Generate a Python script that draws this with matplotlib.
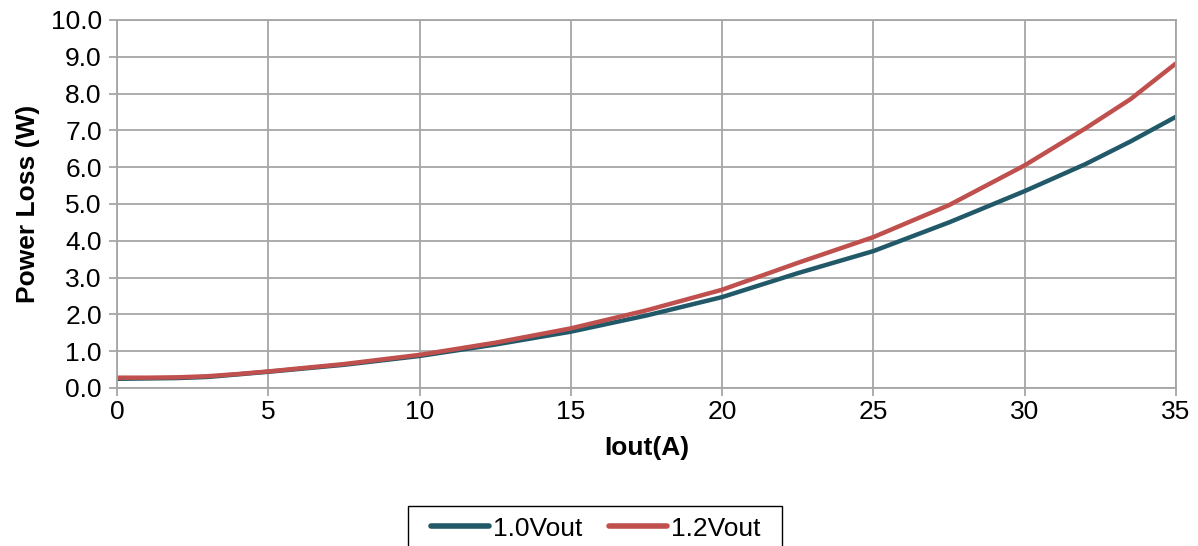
import matplotlib
matplotlib.use("Agg")
import matplotlib.pyplot as plt
from matplotlib.patches import Rectangle

plt.rcParams["font.family"] = ["Liberation Sans", "DejaVu Sans"]

# Iout (A) and power loss (W)
iout = [0, 1, 2, 3, 4, 5, 7.5, 10, 12.5, 15, 17.5, 20, 22.5, 25, 27.5, 30, 32, 33.5, 35]
loss_1v0 = [0.25, 0.26, 0.27, 0.30, 0.37, 0.44, 0.63, 0.87, 1.18, 1.53, 1.97,
            2.47, 3.12, 3.72, 4.50, 5.35, 6.08, 6.70, 7.37]
loss_1v2 = [0.28, 0.28, 0.29, 0.32, 0.38, 0.45, 0.65, 0.90, 1.23, 1.62, 2.11,
            2.67, 3.40, 4.10, 4.97, 6.05, 7.05, 7.85, 8.82]

grid_c = "#a6a6a6"

fig = plt.figure(figsize=(11.98, 5.46), dpi=100)
ax = fig.add_axes([0.0977, 0.2894, 0.8839, 0.6740])

ax.plot(iout, loss_1v0, color="#215968", lw=3.2, label="1.0Vout", solid_capstyle="round")
ax.plot(iout, loss_1v2, color="#c0504d", lw=3.2, label="1.2Vout", solid_capstyle="round")

ax.set_xlim(0, 35)
ax.set_ylim(0, 10)
ax.set_xticks(range(0, 36, 5))
ax.set_yticks(range(0, 11))
ax.set_yticklabels([f"{v:.1f}" for v in range(0, 11)])
ax.grid(True, color=grid_c, lw=1.3)
ax.set_axisbelow(True)
for s in ax.spines.values():
    s.set_color(grid_c)
    s.set_linewidth(1.3)
ax.tick_params(axis="both", colors=grid_c, labelcolor="black", labelsize=19,
               length=6, width=1.3)
ax.tick_params(axis="x", pad=3)
ax.tick_params(axis="y", pad=5)

ax.set_xlabel("Iout(A)", fontsize=19, fontweight="bold", labelpad=8)
ax.set_ylabel("Power Loss (W)", fontsize=19, fontweight="bold", labelpad=8)

# legend box runs off the bottom edge, as in the reference
leg = fig.legend(loc="upper center", bbox_to_anchor=(0.4975, 0.0733), ncol=2,
                 fontsize=19, frameon=False, handlelength=2.2,
                 columnspacing=1.0, handletextpad=0.15, borderpad=0.4,
                 borderaxespad=0)
for h in leg.get_lines():
    h.set_linewidth(4)
fig.patches.append(Rectangle((408 / 1198, -0.05), 374 / 1198, 0.05 + 40 / 546,
                             transform=fig.transFigure, fill=False,
                             edgecolor="black", lw=1.0))

fig.savefig("out.png", dpi=100)
